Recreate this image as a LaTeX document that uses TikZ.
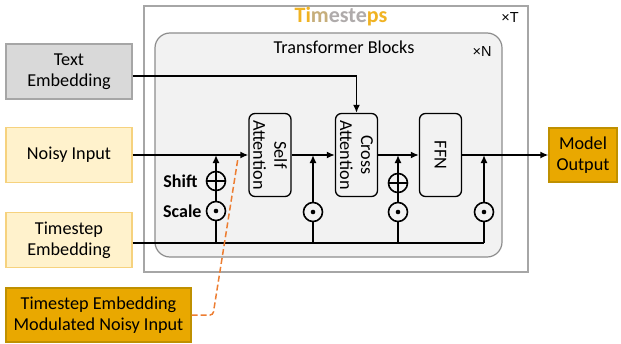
\documentclass[tikz,border=0pt]{standalone}
\usepackage{fontspec}
\setmainfont{Carlito}
\newfontfamily\arialfont{Liberation Sans}
\usetikzlibrary{arrows.meta,positioning}

\definecolor{boxgray}{HTML}{D9D9D9}
\definecolor{edgegray}{HTML}{A6A6A6}
\definecolor{paleyellow}{HTML}{FFF2CC}
\definecolor{paleedge}{HTML}{F6D27E}
\definecolor{goldfill}{HTML}{E9A800}
\definecolor{goldedge}{HTML}{BF9000}
\definecolor{blockfill}{HTML}{F2F2F2}
\definecolor{titlegold}{HTML}{F0B323}
\definecolor{titlegray}{HTML}{AFABAB}
\definecolor{dashorange}{HTML}{ED7D31}

\tikzset{
  txt/.style={font=\fontsize{18.2}{21}\selectfont},
  boldtxt/.style={font=\bfseries\fontsize{18}{21}\selectfont, inner sep=0pt},
  timestxt/.style={font=\arialfont\fontsize{14.5}{16}\selectfont},
  inbox/.style={txt, draw=edgegray, line width=1.2pt, minimum width=126pt, minimum height=55pt, inner sep=0pt, align=center},
  layer/.style={draw, line width=1.3pt, rounded corners=6pt, minimum width=42pt, minimum height=83pt, inner sep=0pt},
  opcirc/.style={circle, draw, line width=1.6pt, minimum size=19pt, inner sep=0pt},
  odot/.style={opcirc, path picture={\fill (path picture bounding box.center) circle (2.3pt);}},
  oplus/.style={opcirc, path picture={\draw[line width=1.6pt] (path picture bounding box.north) -- (path picture bounding box.south) (path picture bounding box.west) -- (path picture bounding box.east);}},
  wire/.style={line width=1.7pt},
}

\begin{document}
\begin{tikzpicture}[x=1pt, y=-1pt, >={Latex[length=8pt,width=7pt]}]
    \useasboundingbox (0,0) rectangle (621,343);

    % Loop over timesteps
    \draw[edgegray, line width=1.2pt, fill=white] (144,6) rectangle (528,272);
    \node[font=\bfseries\fontsize{22}{26}\selectfont] (title) at (341,17)
        {\textcolor{titlegold}{Ti}\textcolor{titlegold!35!titlegray}{m}\textcolor{titlegray}{este}\textcolor{titlegold}{ps}};
    \node[timestxt] (ntimes) at (510,18) {×T};

    % Transformer blocks
    \draw[edgegray!85!black, line width=1.2pt, fill=blockfill, rounded corners=15pt] (155,33) rectangle (502,257);
    \node[txt] (blocks) at (344,47) {Transformer Blocks};
    \node[timestxt] (nblocks) at (482,52) {×N};

    % Inputs
    \node[inbox, fill=boxgray] (textemb) at (69,71.5) {Text\\Embedding};
    \node[inbox, fill=paleyellow, draw=paleedge] (noisy) at (69,155) {Noisy Input};
    \node[inbox, fill=paleyellow, draw=paleedge] (tsemb) at (69,240) {Timestep\\Embedding};

    % Output and note
    \node[inbox, fill=goldfill, draw=goldedge, minimum width=68pt, minimum height=54pt] (output) at (583,155) {Model\\Output};
    \node[inbox, fill=goldfill, draw=goldedge, minimum width=185pt, minimum height=54pt] (modnote) at (98.5,315) {Timestep Embedding\\Modulated Noisy Input};

    % Layers
    \node[layer] (selfatt) at (270,155) {};
    \node[txt, rotate=-90, align=center] at (selfatt) {Self\\Attention};
    \node[layer] (crossatt) at (356.5,155) {};
    \node[txt, rotate=-90, align=center] at (crossatt) {Cross\\Attention};
    \node[layer] (ffn) at (440.5,155) {};
    \node[txt, rotate=-90] at (ffn) {FFN};

    % Modulation ops
    \node[odot] (odot1) at (216,211) {};
    \node[oplus] (oplus1) at (216,181) {};
    \node[odot] (odot2) at (313,212) {};
    \node[odot] (odot3) at (398,212) {};
    \node[oplus] (oplus3) at (398,183) {};
    \node[odot] (odot4) at (484,212) {};
    \node[boldtxt, left=8pt of oplus1] (shift) {Shift};
    \node[boldtxt, left=4pt of odot1] (scale) {Scale};

    % Junctions
    \coordinate (m1) at (216,155);
    \coordinate (m2) at (313,155);
    \coordinate (m3) at (398,155);
    \coordinate (m4) at (484,155);
    \coordinate (b1) at (216,243);
    \coordinate (b2) at (313,243);
    \coordinate (b3) at (398,243);
    \coordinate (b4) at (484,243);

    % Main path
    \draw[->, wire] (noisy.east) -- (selfatt.west);
    \draw[->, wire] (selfatt.east) -- (crossatt.west);
    \draw[->, wire] (crossatt.east) -- (ffn.west);
    \draw[->, wire] (ffn.east) -- (output.west);
    \draw[->, wire] ([yshift=-4.5pt]textemb.east) -| (crossatt.north);

    % Timestep embedding branches
    \draw[wire] ([yshift=-3pt]tsemb.east) -- (b4);
    \draw[wire] (b1) -- (odot1);
    \draw[wire] (odot1) -- (oplus1);
    \draw[->, wire] (oplus1) -- (m1);
    \draw[wire] (b2) -- (odot2);
    \draw[->, wire] (odot2) -- (m2);
    \draw[wire] (b3) -- (odot3);
    \draw[wire] (odot3) -- (oplus3);
    \draw[->, wire] (oplus3) -- (m3);
    \draw[wire] (b4) -- (odot4);
    \draw[->, wire] (odot4) -- (m4);

    % Note pointer
    \coordinate (dashbend) at (213,315);
    \coordinate (dashend) at (238,158);
    \draw[dashorange, line width=1.5pt, dash pattern=on 6pt off 3pt, rounded corners=3pt] (modnote.east) -- (dashbend) -- (dashend);
\end{tikzpicture}
\end{document}
